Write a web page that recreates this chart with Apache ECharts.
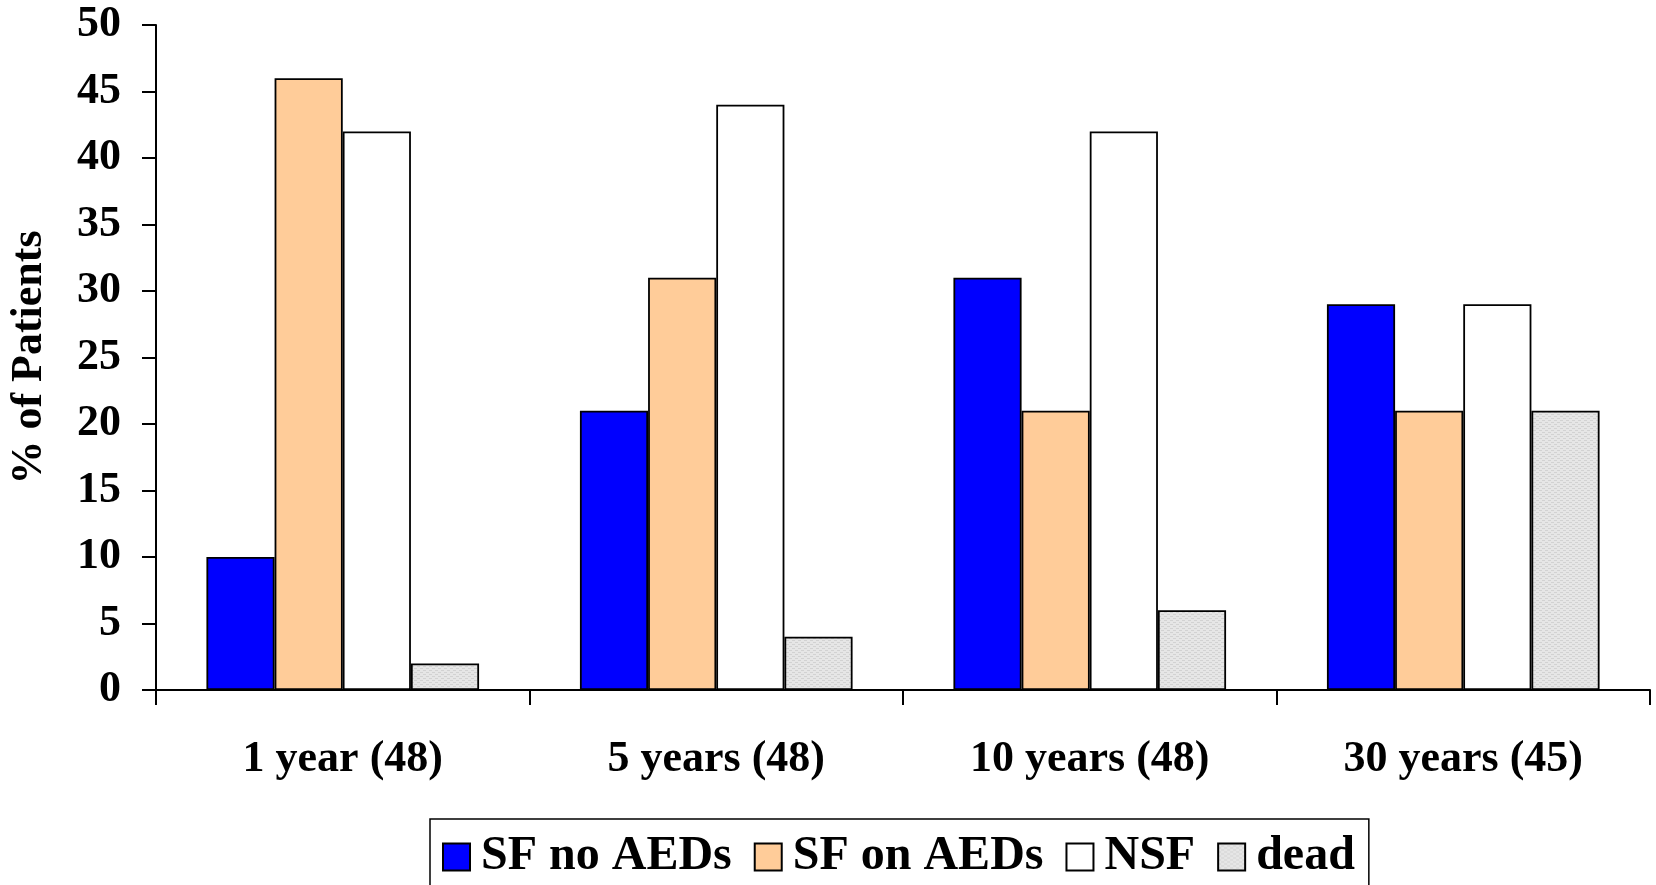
<!DOCTYPE html>
<html>
<head>
<meta charset="utf-8">
<script src="https://cdn.jsdelivr.net/npm/echarts@6/dist/echarts.min.js"></script>
<style>
html,body{margin:0;padding:0;background:#fff;}
#chart{width:1656px;height:885px;}
</style>
</head>
<body>
<div id="chart"></div>
<script>
const categories = ['1 year (48)', '5 years (48)', '10 years (48)', '30 years (45)'];
const seriesNames = ['SF no AEDs', 'SF on AEDs', 'NSF', 'dead'];
const sfNoAEDs = [10, 21, 31, 29];
const sfOnAEDs = [46, 31, 21, 21];
const nsf = [42, 44, 42, 29];
const dead = [2, 4, 6, 21];
const yTicks = [0, 5, 10, 15, 20, 25, 30, 35, 40, 45, 50];

// dotted light-grey texture for "dead"
const pc = document.createElement('canvas');
pc.width = 6; pc.height = 4;
const pctx = pc.getContext('2d');
pctx.fillStyle = '#e6e6e6'; pctx.fillRect(0, 0, 6, 4);
pctx.fillStyle = '#d2d2d2';
pctx.fillRect(0, 0, 3, 1); pctx.fillRect(3, 2, 3, 1);
const deadFill = { image: pc, repeat: 'repeat' };

const FONT = 'Liberation Serif';
const chart = echarts.init(document.getElementById('chart'), null, { renderer: 'canvas' });
const colors = ['#0000ff', '#ffcc99', '#ffffff', deadFill];
const data = [sfNoAEDs, sfOnAEDs, nsf, dead];

chart.setOption({
  animation: false,
  backgroundColor: '#fff',
  grid: { left: 155, right: 6, top: 25, bottom: 195 },
  legend: {
    left: 430, top: 819,
    width: 1000,
    padding: [14, 14, 40, 12],
    borderColor: '#000', borderWidth: 1.5,
    itemWidth: 27, itemHeight: 27, itemGap: 22,
    icon: 'rect',
    textStyle: { fontFamily: FONT, fontWeight: 'bold', fontSize: 48, color: '#000', padding: [0, 0, 0, 6] },
    data: seriesNames
  },
  xAxis: {
    type: 'category',
    data: categories,
    axisLine: { lineStyle: { color: '#000', width: 2 } },
    axisTick: { show: true, length: 15, lineStyle: { color: '#000', width: 2 } },
    axisLabel: { margin: 48, fontFamily: FONT, fontWeight: 'bold', fontSize: 44, color: '#000' }
  },
  yAxis: {
    type: 'value', min: 0, max: 50, interval: 5,
    name: '% of Patients',
    nameLocation: 'middle', nameGap: 104,
    nameTextStyle: { fontFamily: FONT, fontWeight: 'bold', fontSize: 44, color: '#000' },
    axisLine: { show: true, lineStyle: { color: '#000', width: 2 } },
    axisTick: { show: true, length: 14, lineStyle: { color: '#000', width: 2 } },
    splitLine: { show: false },
    axisLabel: {
      margin: 35, fontFamily: FONT, fontWeight: 'bold', fontSize: 44, color: '#000',
      formatter: v => yTicks.includes(v) ? String(v) : ''
    }
  },
  series: seriesNames.map((n, i) => ({
    name: n,
    type: 'bar',
    data: data[i],
    barGap: '0%',
    barCategoryGap: '27%',
    itemStyle: { color: colors[i], borderColor: '#000', borderWidth: 1.8 }
  }))
});
</script>
</body>
</html>
